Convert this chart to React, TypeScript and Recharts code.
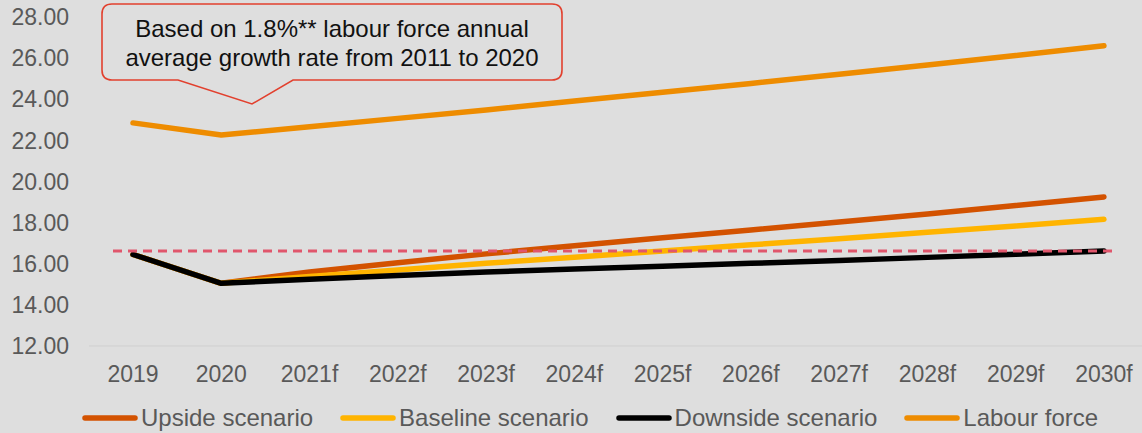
import React from 'react';
import { LineChart, Line, XAxis, YAxis, ReferenceLine } from 'recharts';

const years = ['2019', '2020', '2021f', '2022f', '2023f', '2024f', '2025f', '2026f', '2027f', '2028f', '2029f', '2030f'];
const upside = [16.45, 15.05, 15.6, 16.05, 16.48, 16.88, 17.26, 17.64, 18.03, 18.42, 18.83, 19.25];
const baseline = [16.45, 15.05, 15.38, 15.7, 16.02, 16.32, 16.62, 16.92, 17.22, 17.53, 17.84, 18.16];
const downside = [16.45, 15.05, 15.25, 15.43, 15.6, 15.74, 15.88, 16.02, 16.16, 16.31, 16.46, 16.62];
const labourForce = [22.85, 22.26, 22.66, 23.07, 23.48, 23.91, 24.34, 24.77, 25.22, 25.67, 26.13, 26.6];
const yTicks = [12, 14, 16, 18, 20, 22, 24, 26, 28];
const refValue = 16.62;
const calloutLines = ['Based on 1.8%** labour force annual', 'average growth rate from 2011 to 2020'];

const series = [
  { key: 'upside', name: 'Upside scenario', color: '#d35200' },
  { key: 'baseline', name: 'Baseline scenario', color: '#ffb400' },
  { key: 'downside', name: 'Downside scenario', color: '#000000' },
  { key: 'labour', name: 'Labour force', color: '#ee8c00' },
];

const data = years.map((year, i) => ({
  idx: i,
  year,
  upside: upside[i],
  baseline: baseline[i],
  downside: downside[i],
  labour: labourForce[i],
}));

// x is the year index; the plot area runs a bit past the first/last year
const xDomain = [-0.4985, 11.431];
const refFrom = -0.2266;
const refTo = 11.102;

const FONT = '"Liberation Sans", Arial, sans-serif';
const tickStyle = { fill: '#595959', fontSize: 23, fontFamily: FONT };

function Callout() {
  const d =
    'M112,4 H552 Q562,4 562,14 V70 Q562,80 552,80 H293 L252,104 L178,80 H112 Q102,80 102,70 V14 Q102,4 112,4 Z';
  return (
    <svg width={1142} height={120} style={{ position: 'absolute', left: 0, top: 0 }}>
      <path d={d} fill="#dedede" stroke="#e2402e" strokeWidth={1.6} />
      {calloutLines.map((t, i) => (
        <text key={i} x={332} y={37 + i * 29} textAnchor="middle" fontSize={24} fontFamily={FONT} fill="#111">
          {t}
        </text>
      ))}
    </svg>
  );
}

function LegendRow() {
  return (
    <div
      style={{
        position: 'absolute',
        left: 82,
        top: 404,
        display: 'flex',
        alignItems: 'center',
        fontFamily: FONT,
        fontSize: 24,
        color: '#595959',
        whiteSpace: 'nowrap',
      }}
    >
      {series.map((s) => (
        <div key={s.key} style={{ display: 'flex', alignItems: 'center', marginRight: 27 }}>
          <svg width={56} height={8} style={{ marginRight: 3 }}>
            <line x1={3} y1={4} x2={53} y2={4} stroke={s.color} strokeWidth={5.5} strokeLinecap="round" />
          </svg>
          <span>{s.name}</span>
        </div>
      ))}
    </div>
  );
}

export default function App() {
  return (
    <div
      style={{
        position: 'absolute',
        left: 0,
        top: 0,
        width: 1142,
        height: 433,
        background: '#dedede',
        overflow: 'hidden',
        fontFamily: FONT,
      }}
    >
      <LineChart width={1142} height={433} data={data} margin={{ top: 17, right: 0, bottom: 47, left: 0 }}>
        <XAxis
          dataKey="idx"
          type="number"
          domain={xDomain}
          ticks={years.map((_, i) => i)}
          tickFormatter={(i: number) => years[i]}
          allowDataOverflow
          axisLine={{ stroke: '#cfcfcf' }}
          tickLine={false}
          tickMargin={14}
          height={40}
          tick={tickStyle}
          interval={0}
        />
        <YAxis
          domain={[12, 28]}
          ticks={yTicks}
          axisLine={false}
          tickLine={false}
          tickMargin={14}
          width={89}
          tick={tickStyle}
          tickFormatter={(v: number) => v.toFixed(2)}
          interval={0}
        />
        {series.map((s) => (
          <Line
            key={s.key}
            type="linear"
            dataKey={s.key}
            name={s.name}
            stroke={s.color}
            strokeWidth={5.5}
            strokeLinecap="round"
            strokeLinejoin="round"
            dot={false}
            activeDot={false}
            isAnimationActive={false}
          />
        ))}
        <ReferenceLine
          segment={[{ x: refFrom, y: refValue }, { x: refTo, y: refValue }]}
          stroke="#e0566c"
          strokeWidth={3}
          strokeDasharray="9 6"
        />
      </LineChart>
      <Callout />
      <LegendRow />
    </div>
  );
}
